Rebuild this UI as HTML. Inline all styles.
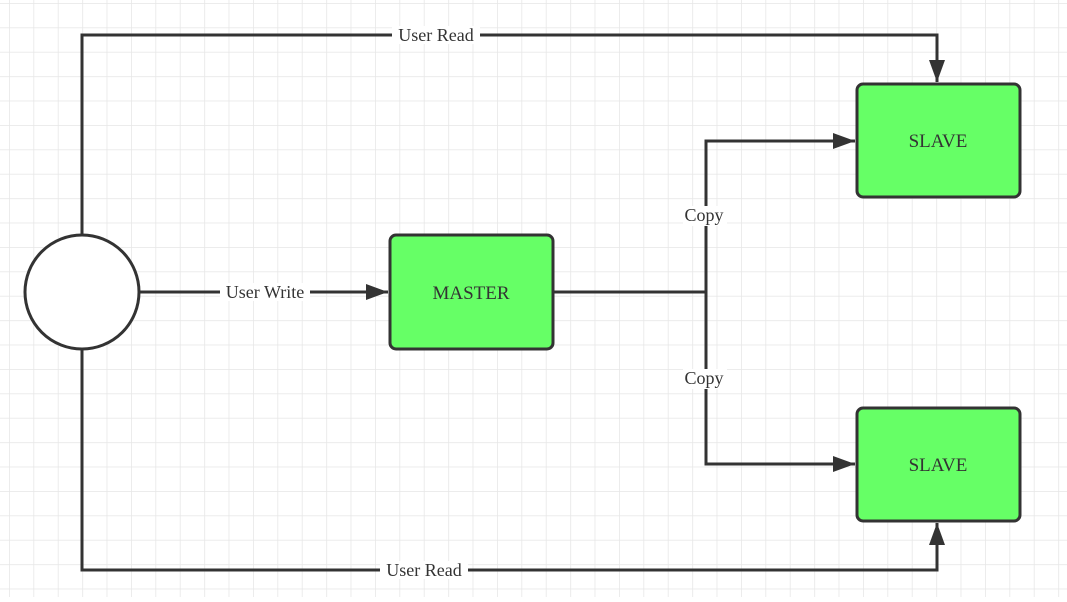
<!DOCTYPE html>
<html><head><style>
body{margin:0;width:1067px;height:597px;overflow:hidden;background:#fff;}
</style></head><body>
<svg width="1067" height="597" xmlns="http://www.w3.org/2000/svg" font-family="Liberation Serif, serif">
<defs>
<pattern id="g" x="9" y="3" width="24.4" height="24.4" patternUnits="userSpaceOnUse">
<path d="M0 0H24.4M0 0V24.4" stroke="#e6e6e6" stroke-width="1.5" fill="none"/>
</pattern>
<marker id="b" markerWidth="22" markerHeight="16" refX="22" refY="8" orient="auto" markerUnits="userSpaceOnUse">
<path d="M0,0 L22,8 L0,16 Z" fill="#333"/></marker>
</defs>
<rect width="1067" height="597" fill="url(#g)"/>
<g stroke="#333" stroke-width="3" fill="none">
<path d="M82 235V35H937V82" marker-end="url(#b)"/>
<path d="M82 349V570H937V523" marker-end="url(#b)"/>
<path d="M140 292H388" marker-end="url(#b)"/>
<path d="M553 292H706"/>
<path d="M706 292V141H855" marker-end="url(#b)"/>
<path d="M706 292V464H855" marker-end="url(#b)"/>
</g>
<circle cx="82" cy="292" r="57" fill="#fff" stroke="#333" stroke-width="3"/>
<g fill="#66ff66" stroke="#333" stroke-width="3">
<rect x="390" y="235" width="163" height="114" rx="6"/>
<rect x="857" y="84" width="163" height="113" rx="6"/>
<rect x="857" y="408" width="163" height="113" rx="6"/>
</g>
<g font-size="19" fill="#333" text-anchor="middle">
<text x="471" y="299">MASTER</text>
<text x="938" y="147">SLAVE</text>
<text x="938" y="471">SLAVE</text>
</g>
<g font-size="18" fill="#333" text-anchor="middle">
<rect x="392" y="26" width="88" height="18" fill="#fff"/>
<text x="436" y="41">User Read</text>
<rect x="380" y="561" width="88" height="18" fill="#fff"/>
<text x="424" y="576">User Read</text>
<rect x="220" y="283" width="90" height="18" fill="#fff"/>
<text x="265" y="298">User Write</text>
<rect x="683" y="206" width="44" height="20" fill="#fff"/>
<text x="704" y="221">Copy</text>
<rect x="683" y="369" width="44" height="20" fill="#fff"/>
<text x="704" y="384">Copy</text>
</g>
</svg>
</body></html>
